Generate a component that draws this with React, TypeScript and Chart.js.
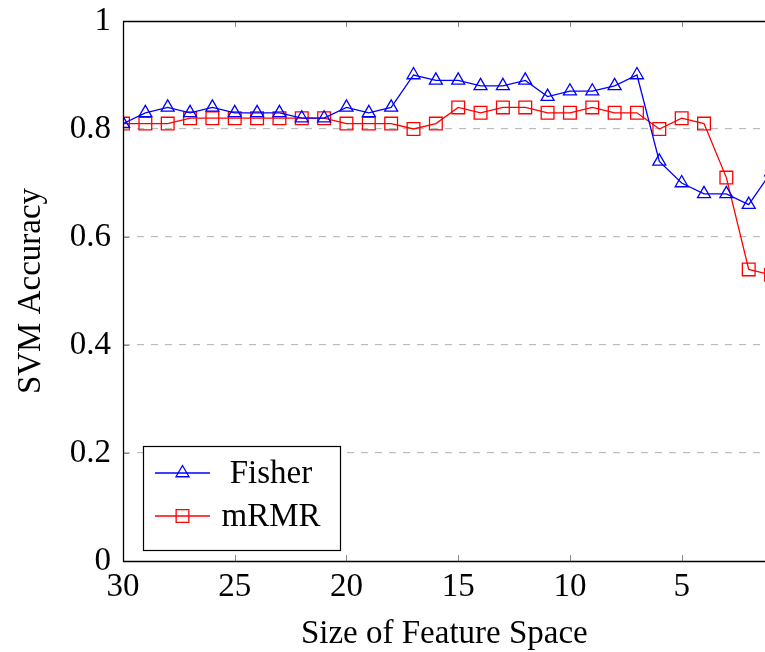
import React, { useEffect, useRef } from "react";
import { Chart, registerables } from "chart.js";

Chart.register(...registerables);

const featureSizes = [30, 29, 28, 27, 26, 25, 24, 23, 22, 21, 20, 19, 18, 17, 16, 15, 14, 13, 12, 11, 10, 9, 8, 7, 6, 5, 4, 3, 2, 1];
const fisher = [0.81, 0.83, 0.84, 0.83, 0.84, 0.83, 0.83, 0.83, 0.82, 0.82, 0.84, 0.83, 0.84, 0.90, 0.89, 0.89, 0.88, 0.88, 0.89, 0.86, 0.87, 0.87, 0.88, 0.90, 0.74, 0.70, 0.68, 0.68, 0.66, 0.72];
const mrmr = [0.81, 0.81, 0.81, 0.82, 0.82, 0.82, 0.82, 0.82, 0.82, 0.82, 0.81, 0.81, 0.81, 0.80, 0.81, 0.84, 0.83, 0.84, 0.84, 0.83, 0.83, 0.84, 0.83, 0.83, 0.80, 0.82, 0.81, 0.71, 0.54, 0.53];
const xTicks = [30, 25, 20, 15, 10, 5];
const yTicks = [0, 0.2, 0.4, 0.6, 0.8, 1];

const FONT = "'Liberation Serif', 'DejaVu Serif', serif";
const FS = 33;
const W = 765;
const H = 652;
const CW = 776; // canvas wider than the view; the plot's right part is cut off as in the reference

function marker(ctx: CanvasRenderingContext2D, style: string, r: number, x: number, y: number) {
  ctx.beginPath();
  if (style === "triangle") {
    for (let k = 0; k < 3; k++) {
      const ang = (k * 2 * Math.PI) / 3;
      const px = x + Math.sin(ang) * r;
      const py = y - Math.cos(ang) * r;
      if (k === 0) ctx.moveTo(px, py);
      else ctx.lineTo(px, py);
    }
    ctx.closePath();
  } else {
    const s = Math.SQRT1_2 * r;
    ctx.rect(x - s, y - s, 2 * s, 2 * s);
  }
  ctx.stroke();
}

const frame = {
  id: "frame",
  afterDraw(chart: any) {
    const { ctx, chartArea: a, scales } = chart;
    ctx.save();
    ctx.strokeStyle = "#888";
    ctx.lineWidth = 1;
    const xs = scales.x, ys = scales.y;
    xTicks.forEach((v) => {
      const px = Math.round(xs.getPixelForValue(v)) + 0.5;
      ctx.beginPath();
      ctx.moveTo(px, a.bottom);
      ctx.lineTo(px, a.bottom - 6);
      ctx.moveTo(px, a.top);
      ctx.lineTo(px, a.top + 6);
      ctx.stroke();
    });
    yTicks.forEach((v) => {
      const py = Math.round(ys.getPixelForValue(v)) + 0.5;
      ctx.beginPath();
      ctx.moveTo(a.left, py);
      ctx.lineTo(a.left + 6, py);
      ctx.stroke();
    });
    ctx.strokeStyle = "#000";
    ctx.lineWidth = 1.3;
    const L = Math.round(a.left) + 0.5, T = Math.round(a.top) + 0.5, B = Math.round(a.bottom) + 0.5;
    ctx.beginPath();
    ctx.moveTo(a.right + 2, T);
    ctx.lineTo(L, T);
    ctx.lineTo(L, B);
    ctx.lineTo(a.right + 2, B);
    ctx.stroke();
    // legend
    const lx = 143, ly = 446, lw = 197, lh = 104;
    ctx.fillStyle = "#fff";
    ctx.fillRect(lx, ly, lw, lh);
    ctx.strokeStyle = "#000";
    ctx.lineWidth = 1.2;
    ctx.strokeRect(lx + 0.5, ly + 0.5, lw, lh);
    chart.data.datasets.forEach((ds: any, i: number) => {
      const y = ly + 27 + i * 43;
      ctx.strokeStyle = ds.borderColor;
      ctx.lineWidth = 1.3;
      ctx.beginPath();
      ctx.moveTo(lx + 12, y);
      ctx.lineTo(lx + 67, y);
      ctx.stroke();
      marker(ctx, ds.pointStyle, ds.pointRadius, lx + 39.5, y);
      ctx.fillStyle = "#000";
      ctx.font = `${FS}px ${FONT}`;
      ctx.textBaseline = "middle";
      ctx.textAlign = "center";
      ctx.fillText(ds.label, lx + 128, y + 1);
    });
    ctx.restore();
  },
};

export default function App() {
  const ref = useRef<HTMLCanvasElement>(null);
  useEffect(() => {
    const chart = new Chart(ref.current!, {
      type: "line",
      data: {
        datasets: [
          {
            label: "Fisher",
            data: featureSizes.map((x, i) => ({ x, y: fisher[i] })),
            borderColor: "#0000ff",
            backgroundColor: "rgba(0,0,0,0)",
            borderWidth: 1.3,
            pointStyle: "triangle",
            pointRadius: 7.5,
            pointBorderWidth: 1.3,
            pointBorderColor: "#0000ff",
            pointBackgroundColor: "rgba(0,0,0,0)",
            tension: 0,
          },
          {
            label: "mRMR",
            data: featureSizes.map((x, i) => ({ x, y: mrmr[i] })),
            borderColor: "#ff0000",
            backgroundColor: "rgba(0,0,0,0)",
            borderWidth: 1.3,
            pointStyle: "rect",
            pointRadius: 9,
            pointBorderWidth: 1.3,
            pointBorderColor: "#ff0000",
            pointBackgroundColor: "rgba(0,0,0,0)",
            tension: 0,
          },
        ],
      },
      options: {
        animation: false,
        responsive: false,
        maintainAspectRatio: false,
        layout: { padding: { left: 0, right: 0, top: 21, bottom: 0 } },
        plugins: { legend: { display: false }, tooltip: { enabled: false } },
        scales: {
          x: {
            type: "linear",
            reverse: true,
            min: 1.24,
            max: 30,
            afterBuildTicks: (s: any) => {
              s.ticks = xTicks.map((v) => ({ value: v }));
            },
            afterFit: (s: any) => {
              s.height = 91;
              s.paddingLeft = 0;
              s.paddingRight = 0;
            },
            grid: { display: false, drawTicks: false },
            border: { display: false },
            ticks: {
              autoSkip: false,
              maxRotation: 0,
              padding: 7,
              color: "#000",
              font: { family: FONT, size: FS },
            },
            title: {
              display: true,
              text: "Size of Feature Space",
              color: "#000",
              font: { family: FONT, size: FS },
              padding: { top: 0, bottom: -2 },
            },
          },
          y: {
            type: "linear",
            min: 0,
            max: 1,
            afterBuildTicks: (s: any) => {
              s.ticks = yTicks.map((v) => ({ value: v }));
            },
            afterFit: (s: any) => {
              s.width = 123;
              s.paddingTop = 0;
              s.paddingBottom = 0;
            },
            grid: {
              color: (c: any) => (c.tick && (c.tick.value === 0 || c.tick.value === 1) ? "rgba(0,0,0,0)" : "#bdbdbd"),
              lineWidth: 1.2,
              drawTicks: false,
            },
            border: { display: false, dash: [7, 7] },
            ticks: {
              padding: 12,
              color: "#000",
              font: { family: FONT, size: FS },
              callback: (v: any) => String(v),
            },
            title: {
              display: true,
              text: "SVM Accuracy",
              color: "#000",
              font: { family: FONT, size: FS },
              padding: { top: 12, bottom: 0 },
            },
          },
        },
      },
      plugins: [frame],
    });
    return () => chart.destroy();
  }, []);
  return (
    <div style={{ position: "fixed", left: 0, top: 0, width: W, height: H, overflow: "hidden", background: "#fff" }}>
      <canvas ref={ref} width={CW} height={H} style={{ display: "block", width: CW, height: H }} />
    </div>
  );
}
